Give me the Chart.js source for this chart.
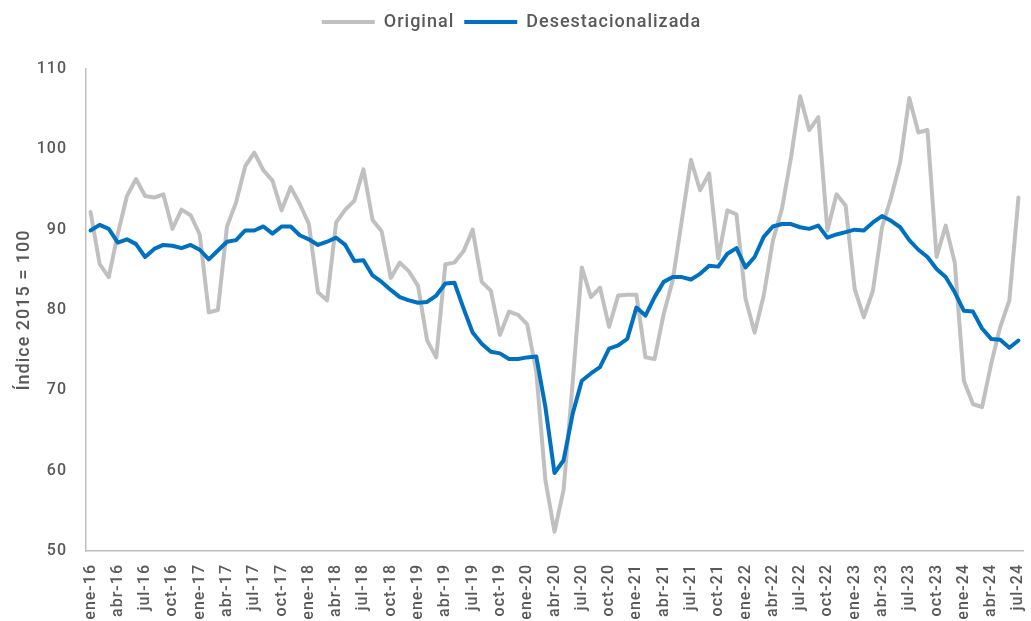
<!DOCTYPE html>
<html>
<head>
<meta charset="utf-8">
<script src="https://cdn.jsdelivr.net/npm/chart.js@4/dist/chart.umd.min.js"></script>
<style>
  html, body { margin: 0; padding: 0; background: #ffffff; overflow: hidden; }
  #wrap { width: 1031px; height: 621px; }
</style>
</head>
<body>
<div id="wrap"><canvas id="c" width="1031" height="621"></canvas></div>
<script>
// Month abbreviations and years used to build the category labels
const monthNames = ['ene','feb','mar','abr','may','jun','jul','ago','sep','oct','nov','dic'];
const years = ['16','17','18','19','20','21','22','23','24'];
const lastMonthIndex2024 = 6; // jul-24

const categories = [];
years.forEach(function (y) {
  monthNames.forEach(function (m, mi) {
    if (y === '24' && mi > lastMonthIndex2024) return;
    categories.push(m + '-' + y);
  });
});

// Series values (Índice 2015 = 100)
const original = [
  92.2, 85.7, 84.1, 89.5, 94.2, 96.3, 94.2, 94.0, 94.4, 90.1, 92.5, 91.8,
  89.4, 79.7, 80.0, 90.4, 93.4, 97.9, 99.6, 97.4, 96.1, 92.4, 95.3, 93.2,
  90.7, 82.2, 81.2, 90.9, 92.5, 93.6, 97.5, 91.2, 89.8, 84.0, 85.9, 84.8,
  83.0, 76.2, 74.1, 85.7, 85.9, 87.3, 90.0, 83.5, 82.4, 76.9, 79.8, 79.4,
  78.2, 72.3, 58.8, 52.4, 57.6, 71.0, 85.3, 81.6, 82.8, 77.9, 81.8, 81.9,
  81.9, 74.1, 73.9, 79.5, 83.7, 91.2, 98.7, 94.9, 97.0, 86.4, 92.4, 91.9,
  81.4, 77.2, 81.8, 88.6, 92.6, 99.0, 106.6, 102.4, 104.0, 89.9, 94.4, 93.0,
  82.6, 79.1, 82.4, 90.3, 94.0, 98.4, 106.4, 102.1, 102.4, 86.6, 90.5, 85.9,
  71.2, 68.3, 67.9, 73.3, 77.9, 81.2, 94.0
];
const desestacionalizada = [
  89.9, 90.6, 90.1, 88.4, 88.8, 88.2, 86.6, 87.6, 88.1, 88.0, 87.7, 88.1,
  87.5, 86.3, 87.4, 88.5, 88.7, 89.9, 89.9, 90.4, 89.5, 90.4, 90.4, 89.3,
  88.8, 88.1, 88.5, 89.0, 88.1, 86.1, 86.2, 84.3, 83.5, 82.5, 81.6, 81.2,
  80.9, 81.0, 81.8, 83.3, 83.4, 80.2, 77.2, 75.8, 74.8, 74.6, 73.9, 73.9,
  74.1, 74.2, 67.9, 59.7, 61.3, 67.1, 71.2, 72.1, 72.9, 75.2, 75.6, 76.4,
  80.3, 79.3, 81.6, 83.5, 84.1, 84.1, 83.8, 84.5, 85.5, 85.4, 87.0, 87.7,
  85.3, 86.6, 89.1, 90.4, 90.7, 90.7, 90.3, 90.1, 90.5, 89.0, 89.4, 89.7,
  90.0, 89.9, 90.9, 91.7, 91.1, 90.3, 88.7, 87.5, 86.6, 85.1, 84.1, 82.2,
  79.9, 79.8, 77.7, 76.4, 76.3, 75.3, 76.2
];

const seriesNames = ['Original', 'Desestacionalizada'];
const yTitle = 'Índice 2015 = 100';
const yMin = 50, yMax = 110, yStep = 10;
const tickEvery = 3;

const textColor = '#595959';
const axisColor = '#BFBFBF';
const fontFamily = 'Roboto, "DejaVu Sans", sans-serif';

const spacingPlugin = {
  id: 'letterSpacing',
  beforeUpdate(chart) { chart.ctx.letterSpacing = '1px'; },
  beforeLayout(chart) { chart.ctx.letterSpacing = '1px'; },
  beforeDraw(chart) { chart.ctx.letterSpacing = '1px'; }
};

new Chart(document.getElementById('c'), {
  type: 'line',
  data: {
    labels: categories,
    datasets: [
      {
        label: seriesNames[0],
        data: original,
        borderColor: '#C0C0C0',
        backgroundColor: '#C0C0C0',
        borderWidth: 4,
        pointRadius: 0,
        tension: 0,
        borderJoinStyle: 'round',
        borderCapStyle: 'round',
        order: 2
      },
      {
        label: seriesNames[1],
        data: desestacionalizada,
        borderColor: '#0070C0',
        backgroundColor: '#0070C0',
        borderWidth: 4,
        pointRadius: 0,
        tension: 0,
        borderJoinStyle: 'round',
        borderCapStyle: 'round',
        order: 1
      }
    ]
  },
  plugins: [spacingPlugin],
  options: {
    responsive: false,
    animation: false,
    devicePixelRatio: 1,
    layout: { padding: { top: 3, right: 8, bottom: 0, left: 0 } },
    plugins: {
      tooltip: { enabled: false },
      legend: {
        position: 'top',
        align: 'center',
        labels: {
          usePointStyle: true,
          pointStyle: 'line',
          pointStyleWidth: 53,
          boxHeight: 18,
          padding: 10,
          color: textColor,
          font: { family: fontFamily, size: 18, weight: 500 },
          sort: function (a, b) { return a.datasetIndex - b.datasetIndex; }
        }
      },
      subtitle: {
        display: true,
        text: ' ',
        position: 'top',
        weight: 500,
        padding: { top: 0, bottom: 16 },
        font: { size: 10 }
      }
    },
    scales: {
      x: {
        type: 'category',
        offset: true,
        grid: { display: false, drawTicks: false },
        border: { display: true, color: axisColor, width: 1.5 },
        ticks: {
          autoSkip: false,
          minRotation: 90,
          maxRotation: 90,
          padding: 13,
          color: textColor,
          font: { family: fontFamily, size: 16, weight: 500 },
          callback: function (value, index) {
            return index % tickEvery === 0 ? this.getLabelForValue(value) : null;
          }
        },
        afterFit: function (scale) {
          scale.height = 70;
          scale.paddingLeft = 0;
          scale.paddingRight = 0;
        }
      },
      y: {
        min: yMin,
        max: yMax,
        grid: { display: false, drawTicks: false },
        border: { display: true, color: axisColor, width: 1.5 },
        ticks: {
          stepSize: yStep,
          padding: 19,
          color: textColor,
          font: { family: fontFamily, size: 16, weight: 500 }
        },
        title: {
          display: true,
          text: yTitle,
          color: textColor,
          padding: { top: 14, bottom: 0 },
          font: { family: fontFamily, size: 18, weight: 500 }
        },
        afterFit: function (scale) {
          scale.width = 86;
        }
      }
    }
  }
});
</script>
</body>
</html>
